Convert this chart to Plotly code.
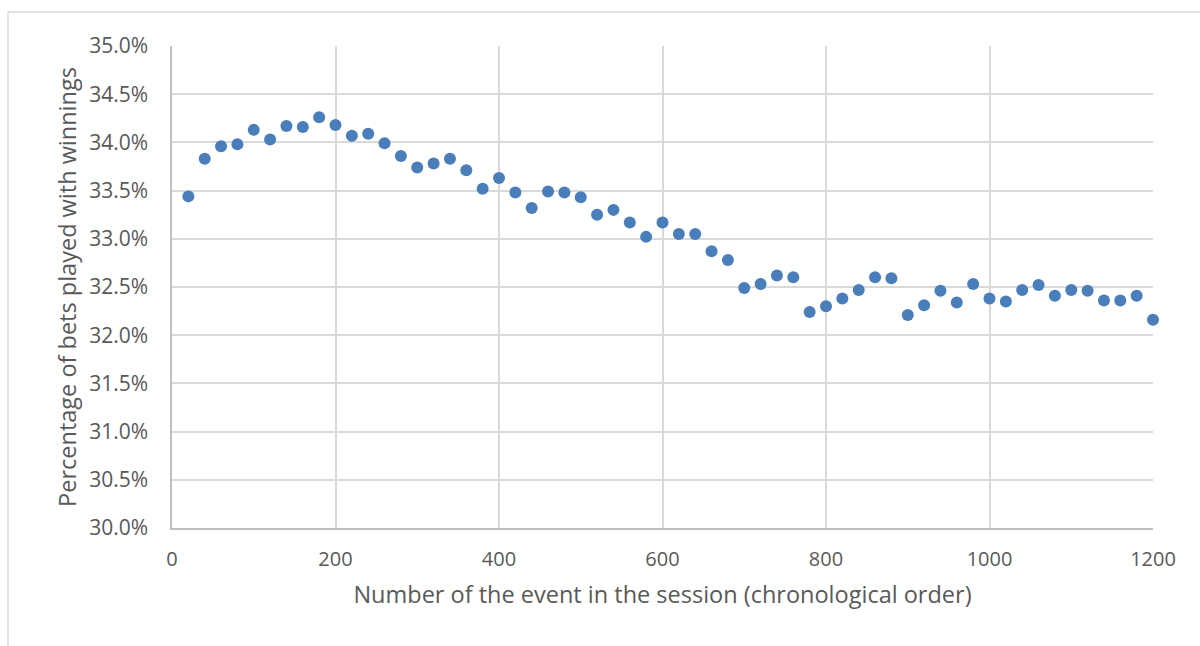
import plotly.graph_objects as go

event_number = [20, 40, 60, 80, 100, 120, 140, 160, 180, 200,
                220, 240, 260, 280, 300, 320, 340, 360, 380, 400,
                420, 440, 460, 480, 500, 520, 540, 560, 580, 600,
                620, 640, 660, 680, 700, 720, 740, 760, 780, 800,
                820, 840, 860, 880, 900, 920, 940, 960, 980, 1000,
                1020, 1040, 1060, 1080, 1100, 1120, 1140, 1160, 1180, 1200]

pct_winnings = [33.44, 33.83, 33.96, 33.98, 34.13, 34.03, 34.17, 34.16, 34.26, 34.18,
                34.07, 34.09, 33.99, 33.86, 33.74, 33.78, 33.83, 33.71, 33.52, 33.63,
                33.48, 33.32, 33.49, 33.48, 33.43, 33.25, 33.30, 33.17, 33.02, 33.17,
                33.05, 33.05, 32.87, 32.78, 32.49, 32.53, 32.62, 32.60, 32.24, 32.30,
                32.38, 32.47, 32.60, 32.59, 32.21, 32.31, 32.46, 32.34, 32.53, 32.38,
                32.35, 32.47, 32.52, 32.41, 32.47, 32.46, 32.36, 32.36, 32.41, 32.16]

y_ticks = [30.0, 30.5, 31.0, 31.5, 32.0, 32.5, 33.0, 33.5, 34.0, 34.5, 35.0]
y_tick_labels = [f"{v:.1f}%" for v in y_ticks]
x_ticks = [0, 200, 400, 600, 800, 1000, 1200]

fig = go.Figure()
fig.add_trace(go.Scatter(
    x=event_number, y=pct_winnings, mode="markers",
    marker=dict(color="#4A7EBB", size=12, line=dict(width=0)),
    cliponaxis=False, hoverinfo="x+y",
))

grid = "#D9D9D9"
txt = "#595959"
fig.update_layout(
    width=1200, height=646,
    margin=dict(l=172, r=47, t=46, b=118),
    paper_bgcolor="white", plot_bgcolor="white",
    showlegend=False,
    font=dict(family="Open Sans", color=txt),
    xaxis=dict(
        range=[0, 1200], tickvals=x_ticks, ticktext=[str(v) for v in x_ticks],
        showgrid=True, gridcolor=grid, gridwidth=1.5,
        showline=True, linecolor="#BFBFBF", linewidth=1.5, mirror=False,
        zeroline=False, ticks="", ticklabelstandoff=12,
        tickfont=dict(size=20, color=txt, family="Open Sans"),
        title=dict(text="Number of the event in the session (chronological order)",
                   font=dict(size=23.5, color=txt, family="Open Sans"), standoff=16),
    ),
    yaxis=dict(
        range=[30, 35], tickvals=y_ticks, ticktext=y_tick_labels,
        showgrid=True, gridcolor=grid, gridwidth=1.5,
        showline=True, linecolor="#BFBFBF", linewidth=1.5,
        zeroline=False, ticks="", ticklabelstandoff=18,
        tickfont=dict(size=21, color=txt, family="Open Sans"),
        title=dict(text="Percentage of bets played with winnings",
                   font=dict(size=23.5, color=txt, family="Open Sans"), standoff=6),
    ),
    shapes=[dict(type="rect", xref="paper", yref="paper",
                 x0=(8 - 172) / 981, x1=(1215 - 172) / 981,
                 y0=(528 - 680) / 482, y1=(528 - 12) / 482,
                 line=dict(color="#D9D9D9", width=1.5), fillcolor="rgba(0,0,0,0)",
                 layer="below")],
)

fig.write_html("out.html")
